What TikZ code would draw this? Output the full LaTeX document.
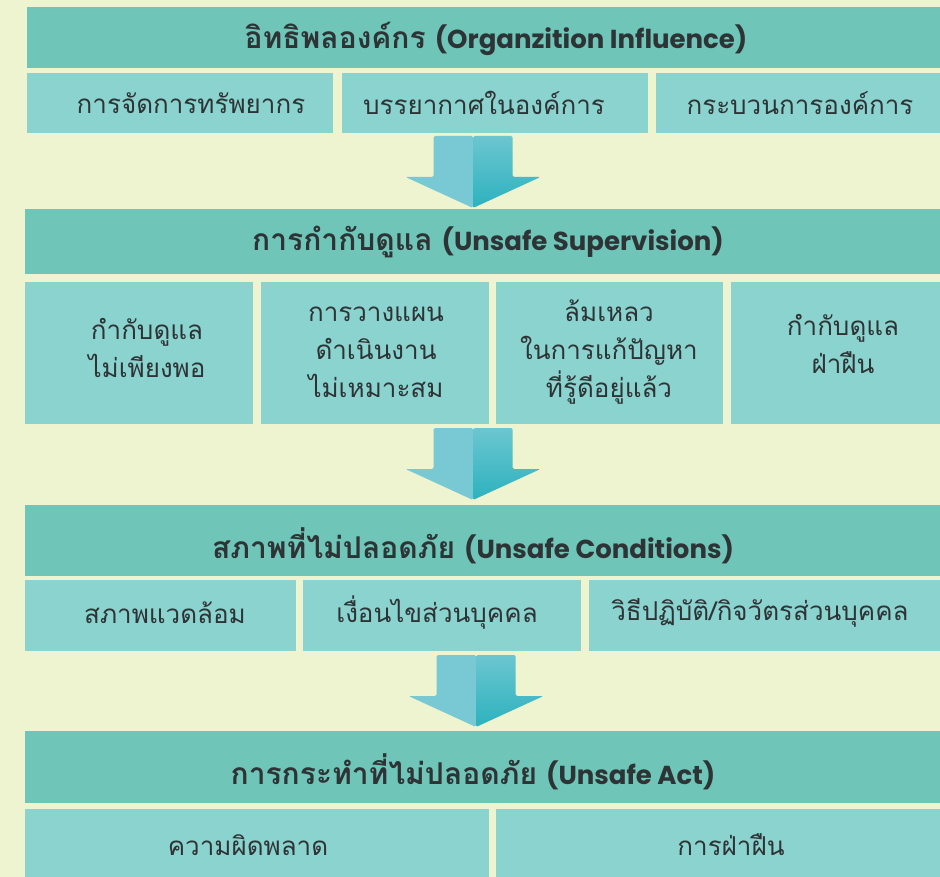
\documentclass[tikz,border=0pt]{standalone}
\usepackage{fontspec}
\newfontfamily\thaifont[Script=Thai]{Loma}
\newfontfamily\headlatin{Poppins}

\definecolor{bgcream}{HTML}{EEF3D0}
\definecolor{headteal}{HTML}{6EC5B8}
\definecolor{cellteal}{HTML}{8BD3CF}
\definecolor{arrowlight}{HTML}{78C9D3}
\definecolor{arrowtop}{HTML}{6CC6D0}
\definecolor{arrowdeep}{HTML}{2CB2BE}
\definecolor{inkgrey}{HTML}{2E3436}

\tikzset{
  headbox/.style={fill=headteal, draw=none, inner sep=0pt},
  cellbox/.style={fill=cellteal, draw=none, inner sep=0pt},
  headtext/.style={text=inkgrey, inner sep=0pt},
  celltext/.style={text=inkgrey, inner sep=0pt, align=center,
    font=\fontsize{26}{38}\selectfont\thaifont},
}

% filled block from (x1,y1) to (x2,y2), pixel units
\newcommand\blockat[6]{%
  \node[#6, anchor=north west, minimum width={(#4-#2)*1pt},
        minimum height={(#5-#3)*1pt}] (#1) at (#2,#3) {};}

% two-tone block arrow, tip pointing down; #1 centre x, #2 top y
\newcommand\flowarrow[2]{%
  \begin{scope}[shift={(#1,#2)}]
    \fill[arrowlight, rounded corners=1.5pt]
      (0,0) -- (-39.5,0) -- (-39.5,41) -- (-67.5,41) -- (0,72) -- cycle;
    \shade[top color=arrowtop, bottom color=arrowdeep, rounded corners=1.5pt]
      (0,0) -- (39.5,0) -- (39.5,41) -- (67.5,41) -- (0,72) -- cycle;
  \end{scope}}

% heading: Thai words then the English name in brackets
\newcommand\headline[2]{{\fontsize{30}{34}\selectfont\thaifont\bfseries #1}%
  \hspace{9pt}{\fontsize{26}{30}\selectfont\headlatin\bfseries #2}}

\begin{document}
\begin{tikzpicture}[x=1pt, y=-1pt]
  \useasboundingbox (0,0) rectangle (940,877);
  \fill[bgcream] (0,0) rectangle (940,877);
  \clip (0,0) rectangle (940,877);

  % level 1: organisational influence
  \blockat{h1}{27}{7}{960}{68}{headbox}
  \node[headtext] (h1t) at (496,39) {\headline{อิทธิพลองค์กร}{(Organzition Influence)}};
  \blockat{a1}{27}{73}{333}{133}{cellbox}
  \blockat{a2}{342}{73}{648}{133}{cellbox}
  \blockat{a3}{656}{73}{960}{133}{cellbox}
  \node[celltext] (a1t) at (191,103) {การจัดการทรัพยากร};
  \node[celltext] (a2t) at (484,103) {บรรยากาศในองค์การ};
  \node[celltext] (a3t) at (800,103) {กระบวนการองค์การ};

  \flowarrow{473}{136}

  % level 2: unsafe supervision
  \blockat{h2}{25}{209}{960}{274}{headbox}
  \node[headtext] (h2t) at (488,242) {\headline{การกำกับดูแล}{(Unsafe Supervision)}};
  \blockat{b1}{25}{282}{253}{424}{cellbox}
  \blockat{b2}{261}{282}{489}{424}{cellbox}
  \blockat{b3}{496}{282}{723}{424}{cellbox}
  \blockat{b4}{731}{282}{960}{424}{cellbox}
  \node[celltext] (b1t) at (147,348) {กำกับดูแล\\ไม่เพียงพอ};
  \node[celltext] (b2t) at (376,352) {การวางแผน\\ดำเนินงาน\\ไม่เหมาะสม};
  \node[celltext] (b3t) at (609,352) {ล้มเหลว\\ในการแก้ปัญหา\\ที่รู้ดีอยู่แล้ว};
  \node[celltext] (b4t) at (843,344) {กำกับดูแล\\ฝ่าฝืน};

  \flowarrow{473}{428}

  % level 3: unsafe conditions
  \blockat{h3}{25}{505}{960}{576}{headbox}
  \node[headtext] (h3t) at (473,546) {\headline{สภาพที่ไม่ปลอดภัย}{(Unsafe Conditions)}};
  \blockat{c1}{25}{580}{296}{651}{cellbox}
  \blockat{c2}{303}{580}{581}{651}{cellbox}
  \blockat{c3}{589}{580}{960}{651}{cellbox}
  \node[celltext] (c1t) at (165,613) {สภาพแวดล้อม};
  \node[celltext] (c2t) at (437,613) {เงื่อนไขส่วนบุคคล};
  \node[celltext] (c3t) at (760,613) {วิธีปฏิบัติ/กิจวัตรส่วนบุคคล};

  \flowarrow{476}{655}

  % level 4: unsafe act
  \blockat{h4}{25}{731}{960}{803}{headbox}
  \node[headtext] (h4t) at (473,772) {\headline{การกระทำที่ไม่ปลอดภัย}{(Unsafe Act)}};
  \blockat{d1}{25}{809}{489}{900}{cellbox}
  \blockat{d2}{496}{809}{960}{900}{cellbox}
  \node[celltext] (d1t) at (248,845) {ความผิดพลาด};
  \node[celltext] (d2t) at (731,845) {การฝ่าฝืน};
\end{tikzpicture}
\end{document}
